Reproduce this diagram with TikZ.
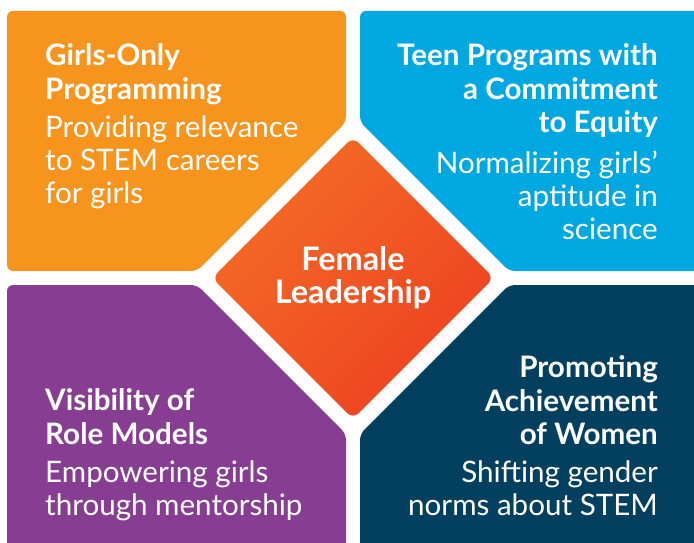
\documentclass[tikz,border=0pt]{standalone}
\usepackage{fontspec}
\setmainfont{Lato}
\usetikzlibrary{shapes.geometric}

\definecolor{orangeq}{HTML}{F7941D}
\definecolor{blueq}{HTML}{00A8E1}
\definecolor{purpleq}{HTML}{873E92}
\definecolor{navyq}{HTML}{03405F}
\definecolor{leadtop}{HTML}{F36C24}
\definecolor{leadbot}{HTML}{EE4123}

\tikzset{
  quad/.style={rounded corners=6bp},
  head/.style={inner sep=0pt, text=white, font=\fontsize{29.7}{34}\selectfont\bfseries},
  body/.style={inner sep=0pt, text=white, font=\fontsize{29.7}{33}\selectfont},
}

\begin{document}
\begin{tikzpicture}[x=1bp,y=-1bp]
  \clip (0,0) rectangle (694,543);

  % the four quadrants
  \fill[orangeq, quad] (7,11) -- (346,11) -- (346,122) -- (197,271) -- (7,271) -- cycle;
  \fill[blueq, quad] (360,11) -- (720,11) -- (720,271) -- (509,271) -- (360,122) -- cycle;
  \fill[purpleq, quad] (7,285) -- (197,285) -- (346,434) -- (346,570) -- (7,570) -- cycle;
  \fill[navyq, quad] (360,570) -- (360,434) -- (509,285) -- (720,285) -- (720,570) -- cycle;

  % centre
  \node[diamond, minimum width=282bp, minimum height=282bp, inner sep=0pt,
        rounded corners=8bp, top color=leadtop, bottom color=leadbot, shading angle=45,
        text=white, align=center, font=\fontsize{32.5}{33}\selectfont\bfseries]
        (lead) at (353,278) {Female\\Leadership};

  % texts
  \node[head, anchor=north west, align=left] (girlsT) at (45,43) {Girls-Only\\Programming};
  \node[body, anchor=north west, align=left] (girlsB) at (45,116) {Providing relevance\\to STEM careers\\for girls};

  \node[head, anchor=north east, align=right] (teenT) at (658,43) {Teen Programs with\\a Commitment\\to Equity};
  \node[body, anchor=north east, align=right] (teenB) at (658,151) {Normalizing girls’\\aptitude in\\science};

  \node[head, anchor=north west, align=left] (roleT) at (45,388) {Visibility of\\Role Models};
  \node[body, anchor=north west, align=left] (roleB) at (45,461) {Empowering girls\\through mentorship};

  \node[head, anchor=north east, align=right] (womenT) at (658,355) {Promoting\\Achievement\\of Women};
  \node[body, anchor=north east, align=right] (womenB) at (658,461) {Shifting gender\\norms about STEM};
\end{tikzpicture}
\end{document}
